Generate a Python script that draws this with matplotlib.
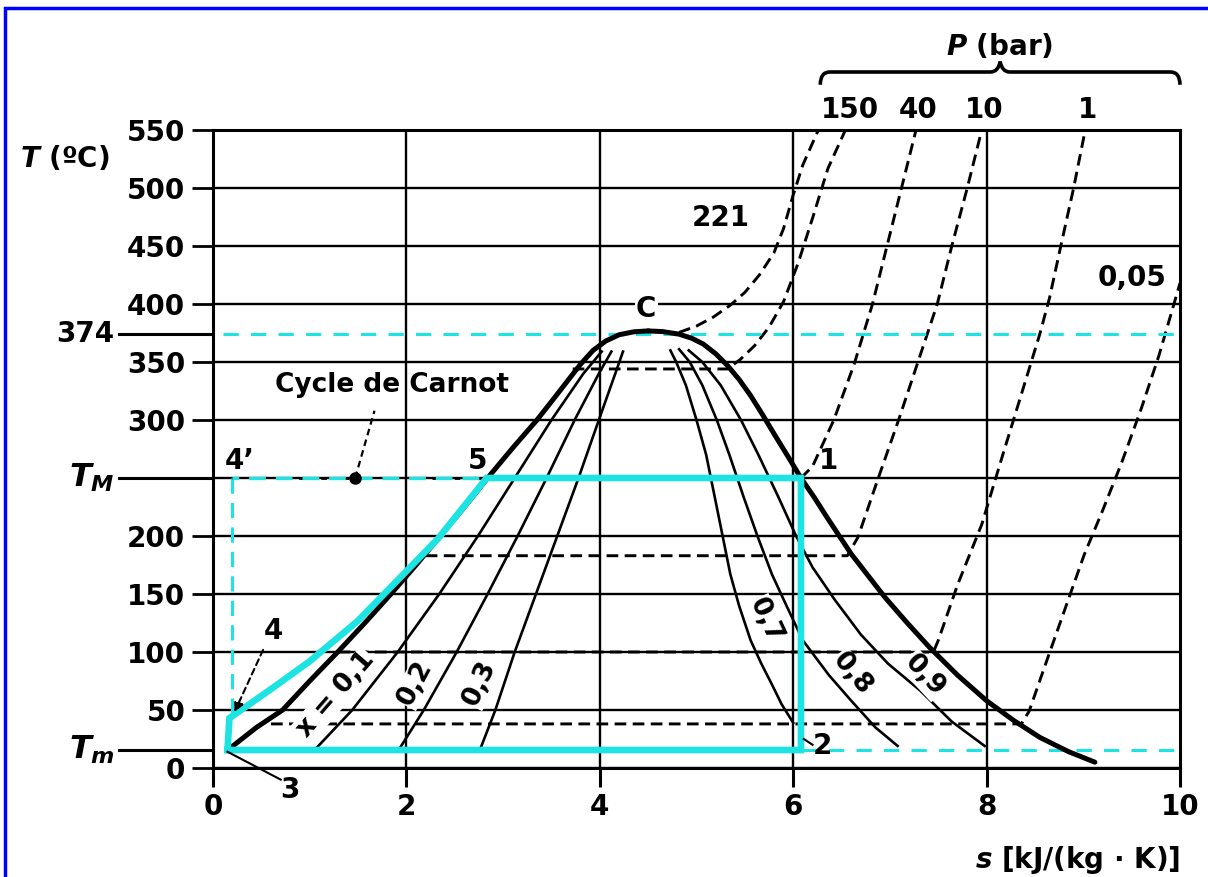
import numpy as np
import matplotlib.pyplot as plt
from matplotlib.path import Path
from matplotlib.patches import PathPatch, Rectangle
import matplotlib.transforms as mtransforms

plt.rcParams['font.family'] = 'DejaVu Sans'
plt.rcParams['font.weight'] = 'bold'
plt.rcParams['mathtext.fontset'] = 'custom'
plt.rcParams['mathtext.it'] = 'DejaVu Sans:italic:bold'
plt.rcParams['mathtext.rm'] = 'DejaVu Sans:bold'

# saturation dome (s in kJ/(kg.K), T in degC)
liq_s = [0.19, 0.45, 0.72, 1.0, 1.29, 1.57, 1.84, 2.1, 2.35, 2.6, 2.84, 3.1, 3.35, 3.52, 3.66, 3.8, 3.93, 4.06, 4.2, 4.35, 4.5]
liq_T = [18, 35, 50, 75, 100, 125, 150, 175, 200, 225, 250, 276, 300, 318, 333, 348, 360, 368, 373.5, 376, 376.8]
vap_s = [4.5, 4.65, 4.82, 4.95, 5.07, 5.2, 5.32, 5.44, 5.56, 5.68, 5.81, 5.95, 6.08, 6.22, 6.35, 6.6, 6.95, 7.18, 7.41, 7.7, 8.0, 8.28, 8.55, 8.85, 9.12]
vap_T = [376.8, 376.2, 374, 370.5, 365.5, 357, 347, 335, 321, 305, 287, 268, 250, 233, 216, 184.5, 147, 125, 104, 80, 58, 41, 26.4, 14, 5]

# quality lines x = 0.1, 0.2, 0.3 (left) and 0.7, 0.8, 0.9 (right)
qleft_T = [15.5, 50, 100, 150, 200, 250, 300, 340, 359]
q1_s = [1.05, 1.44, 1.91, 2.34, 2.74, 3.12, 3.50, 3.83, 4.02]
q2_s = [1.92, 2.18, 2.52, 2.84, 3.15, 3.45, 3.74, 3.99, 4.12]
q3_s = [2.76, 2.92, 3.12, 3.34, 3.56, 3.78, 3.99, 4.16, 4.24]
q7_T = [39, 55, 72, 90, 110, 140, 167, 200, 233, 270, 300, 330, 350, 360]
q7_s = [6.0, 5.88, 5.78, 5.67, 5.56, 5.44, 5.35, 5.27, 5.19, 5.1, 5.0, 4.89, 4.79, 4.73]
q8_T = [19, 35, 58, 80, 110, 140, 167, 200, 233, 270, 300, 330, 350, 361]
q8_s = [7.08, 6.85, 6.6, 6.37, 6.1, 5.93, 5.78, 5.63, 5.49, 5.34, 5.21, 5.06, 4.93, 4.82]
q9_T = [19, 40, 67, 90, 115, 145, 173, 200, 233, 270, 300, 330, 350, 360]
q9_s = [7.98, 7.64, 7.31, 6.98, 6.7, 6.43, 6.2, 6.03, 5.85, 5.64, 5.46, 5.25, 5.06, 4.92]

# isobars (dashed)
p221_s = [4.82, 5.0, 5.17, 5.35, 5.5, 5.65, 5.8, 5.9, 6.0, 6.1, 6.26]
p221_T = [375.5, 381, 388.5, 399, 410, 425, 444, 465, 494, 520, 550]
p150_s = [3.72, 5.32, 5.45, 5.6, 5.75, 5.9, 6.05, 6.2, 6.36, 6.54]
p150_T = [344, 344, 352, 364, 380, 402, 435, 474, 517, 550]
p40_s = [6.08, 6.2, 6.42, 6.63, 6.82, 6.97, 7.12, 7.27]
p40_T = [250, 260, 300, 348, 400, 450, 500, 550]
p10_s = [2.2, 6.56, 6.67, 6.88, 7.09, 7.29, 7.49, 7.64, 7.8, 7.95]
p10_T = [183, 183, 199, 250, 300, 350, 400, 450, 500, 550]
p1_s = [1.3, 7.45, 7.5, 7.7, 7.95, 8.16, 8.37, 8.55, 8.65, 8.77, 8.9, 9.02]
p1_T = [100, 100, 110, 158, 210, 268, 325, 374, 405, 451, 500, 550]
p005_s = [0.6, 8.36, 8.44, 8.62, 8.84, 9.01, 9.2, 9.4, 9.6, 9.78, 9.92, 10.0]
p005_T = [38, 38, 49, 92, 144, 184, 222, 264, 310, 355, 395, 418]

# Carnot cycle / heating path points
cyc_heat_s = [0.17, 0.6, 1.0, 1.5, 1.91, 2.33, 2.83]
cyc_heat_T = [43, 68, 92, 127, 162, 198, 250]
s1, s2, s3, s4p = 6.08, 6.08, 0.15, 0.2
T_M, T_m, T_c = 250, 15.5, 374

cyan = '#1ee3e3'

fig = plt.figure(figsize=(12.08, 8.77), dpi=100)
ax = fig.add_axes([213/1208, 1 - 768/877, 967/1208, 638/877])
ax.set_xlim(0, 10)
ax.set_ylim(0, 550)

# grid
for t in range(0, 551, 50):
    ax.axhline(t, color='black', lw=1.7, zorder=1)
for s in [2, 4, 6, 8]:
    ax.axvline(s, color='black', lw=1.7, zorder=1)
for sp in ax.spines.values():
    sp.set_linewidth(2.2)

ax.set_xticks([0, 2, 4, 6, 8, 10])
ax.set_xticklabels(['0', '2', '4', '6', '8', '10'])
yt = [0, 50, 100, 150, 200, 300, 350, 400, 450, 500, 550]
ax.set_yticks(yt)
ax.set_yticklabels([str(v) for v in yt])
ax.tick_params(axis='x', length=14, width=2.2, pad=4, labelsize=20)
ax.tick_params(axis='y', length=15, width=2, pad=5, labelsize=20)

# long left ticks for 374, T_M, T_m
blend = mtransforms.blended_transform_factory(ax.transAxes, ax.transData)
for t, lab in [(T_c, '374'), (T_M, r'$T_M$'), (T_m, r'$T_m$')]:
    ax.plot([-0.097, 0], [t, t], color='black', lw=2.2, transform=blend, clip_on=False)
    ax.text(-0.102, t, lab, transform=blend, ha='right', va='center', fontsize=20 if lab == '374' else 23)

dash = (0, (4, 2.2))
# isobars
for xs, ys in [(p221_s, p221_T), (p150_s, p150_T), (p40_s, p40_T), (p10_s, p10_T), (p1_s, p1_T), (p005_s, p005_T)]:
    ax.plot(xs, ys, color='black', lw=2.1, ls=dash, zorder=2)

# quality lines
for xs, ys in [(q1_s, qleft_T), (q2_s, qleft_T), (q3_s, qleft_T), (q7_s, q7_T), (q8_s, q8_T), (q9_s, q9_T)]:
    ax.plot(xs, ys, color='black', lw=1.9, zorder=2)

# dome
ax.plot(liq_s, liq_T, color='black', lw=3.6, zorder=3, solid_capstyle='round', solid_joinstyle='round')
ax.plot(vap_s, vap_T, color='black', lw=3.6, zorder=3, solid_capstyle='round', solid_joinstyle='round')

# cyan dashed guides
ax.plot([0.1, 10], [T_c, T_c], color=cyan, lw=2.2, ls=(0, (5, 4)), zorder=2)
ax.plot([s2, 10], [T_m, T_m], color=cyan, lw=2.2, ls=(0, (5, 4)), zorder=2)
ax.plot([s4p, s4p], [T_M, cyc_heat_T[0]], color=cyan, lw=2.2, ls=(0, (5, 3)), zorder=4)
ax.plot([s4p, cyc_heat_s[-1]], [T_M, T_M], color='black', lw=2, ls=(0, (2, 6)), zorder=4)
ax.plot([s4p, cyc_heat_s[-1]], [T_M, T_M], color=cyan, lw=2.4, ls=(3, (5, 3)), zorder=4)

# Carnot cycle (solid cyan)
cyc_s = [s3] + cyc_heat_s + [s1, s2, s3]
cyc_T = [T_m] + cyc_heat_T + [T_M, T_m, T_m]
ax.plot(cyc_s, cyc_T, color=cyan, lw=4.8, zorder=4, solid_joinstyle='miter')

# annotations
fs = 20
ax.text(4.48, 396, 'C', fontsize=fs, ha='center', va='center', zorder=6,
        bbox=dict(facecolor='white', edgecolor='none', pad=1))
ax.text(1.85, 330, 'Cycle de Carnot', fontsize=19, ha='center', va='center', zorder=6)
ax.plot([1.47, 1.67], [250, 308], color='black', lw=1.6, ls=(0, (3, 2)), zorder=6)
ax.plot([1.47], [250], 'o', color='black', ms=8, zorder=6)
ax.text(0.28, 265, "4\u2019", fontsize=fs, ha='center', va='center', zorder=6)
ax.text(2.74, 265, '5', fontsize=fs, ha='center', va='center', zorder=6)
ax.text(6.36, 265, '1', fontsize=fs, ha='center', va='center', zorder=6)
ax.text(6.3, 19, '2', fontsize=fs, ha='center', va='center', zorder=6)
ax.plot([6.11, 6.2], [25, 20], color='black', lw=1.5, zorder=6)
ax.text(0.8, -19, '3', fontsize=fs, ha='center', va='center', zorder=6, clip_on=False)
ax.plot([0.15, 0.7], [14, -10], color='black', lw=1.5, zorder=6, clip_on=False)
ax.text(0.62, 118, '4', fontsize=fs, ha='center', va='center', zorder=6)
ax.annotate('', xy=(0.21, 46), xytext=(0.53, 104), zorder=6,
            arrowprops=dict(arrowstyle='-|>', color='black', lw=1.5, ls=(0, (3, 2)), mutation_scale=14))

ax.text(5.55, 474, '221', fontsize=fs, ha='right', va='center', zorder=6)
ax.text(9.5, 422, '0,05', fontsize=fs, ha='center', va='center', zorder=6)

lbox = dict(facecolor='white', edgecolor='none', pad=0.5)
ax.text(1.27, 63, 'x = 0,1', fontsize=19, rotation=49, ha='center', va='center', zorder=6, bbox=lbox)
ax.text(2.09, 73, '0,2', fontsize=19, rotation=62, ha='center', va='center', zorder=6, bbox=lbox)
ax.text(2.76, 73, '0,3', fontsize=19, rotation=65, ha='center', va='center', zorder=6, bbox=lbox)
ax.text(5.72, 127, '0,7', fontsize=19, rotation=-65, ha='center', va='center', zorder=6, bbox=lbox)
ax.text(6.61, 81, '0,8', fontsize=19, rotation=-50, ha='center', va='center', zorder=6, bbox=lbox)
ax.text(7.36, 80, '0,9', fontsize=19, rotation=-47, ha='center', va='center', zorder=6, bbox=lbox)

# pressure labels on top
for sv, lab in [(6.59, '150'), (7.29, '40'), (7.98, '10'), (9.04, '1')]:
    ax.text(sv, 567, lab, fontsize=fs, ha='center', va='center', clip_on=False)
ax.text(8.14, 622, r'$P$ (bar)', fontsize=fs, ha='center', va='center', clip_on=False)
verts = [(6.28, 589), (6.28, 600), (6.38, 600), (8.04, 600), (8.12, 600), (8.14, 609),
         (8.16, 600), (8.24, 600), (9.9, 600), (10.0, 600), (10.0, 589)]
codes = [Path.MOVETO, Path.CURVE3, Path.CURVE3, Path.LINETO, Path.CURVE3, Path.CURVE3,
         Path.CURVE3, Path.CURVE3, Path.LINETO, Path.CURVE3, Path.CURVE3]
ax.add_patch(PathPatch(Path(verts, codes), facecolor='none', edgecolor='black', lw=2.6, clip_on=False))

# axis labels
ax.text(-0.153, 0.956, r'$T$ (ºC)', transform=ax.transAxes, fontsize=fs, ha='center', va='center')
ax.text(1.0, -0.144, r'$s$ [kJ/(kg · K)]', transform=ax.transAxes, fontsize=fs, ha='right', va='center')

# blue frame
fig.add_artist(Rectangle((5/1208, -0.5), 2, 1.5 - 8/877, transform=fig.transFigure,
                         fill=False, edgecolor='blue', lw=2.5))

fig.savefig('out.png', dpi=100)
